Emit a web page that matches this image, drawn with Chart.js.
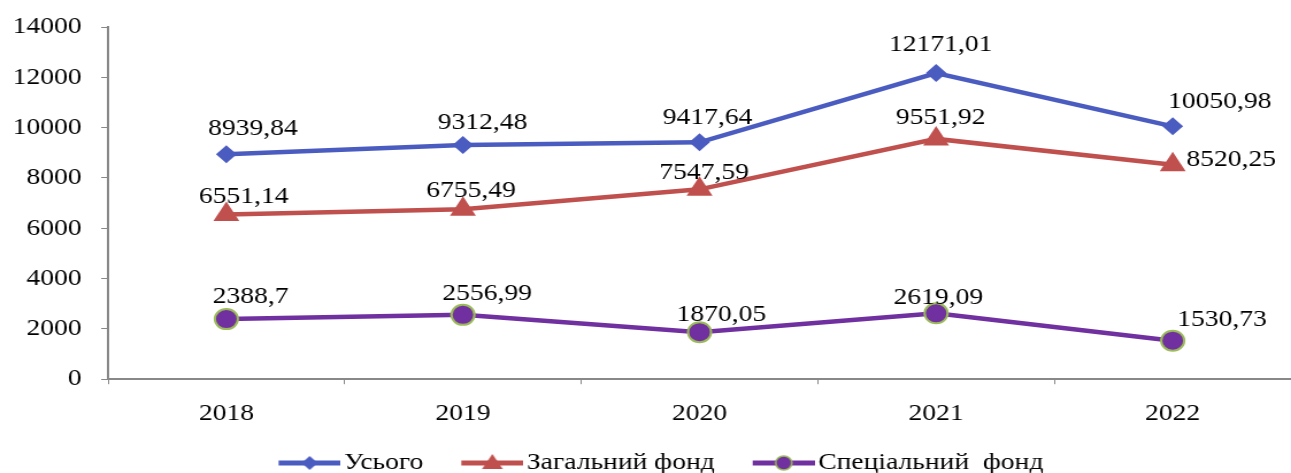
<!DOCTYPE html>
<html>
<head>
<meta charset="utf-8">
<script src="https://cdn.jsdelivr.net/npm/chart.js@4"></script>
<style>
  html, body { margin: 0; padding: 0; background: #fff; overflow: hidden; }
  /* the original picture is a bit wider than tall, so draw narrow and stretch */
  #wrap { width: 1123px; height: 473px; transform: scaleX(1.1496); transform-origin: 0 0; }
</style>
</head>
<body>
<div id="wrap"><canvas id="line"></canvas></div>
<script>
// data
const years = ['2018', '2019', '2020', '2021', '2022'];
const total = [8939.84, 9312.48, 9417.64, 12171.01, 10050.98];
const general = [6551.14, 6755.49, 7547.59, 9551.92, 8520.25];
const special = [2388.7, 2556.99, 1870.05, 2619.09, 1530.73];
const seriesNames = ['Усього', 'Загальний фонд', 'Спеціальний  фонд'];

const FONT = 'Liberation Serif, "Times New Roman", serif';
const blue = '#4B5CC1';
const red = '#C0504D';
const purple = '#7030A0';

// label offsets from the point (px), like hand-placed labels in Excel
const labelShift = [
  [[23, -26], [17, -22], [7, -25], [4, -28], [41, -25]],
  [[15, -18], [7, -19], [4, -17], [4, -21], [51, -5]],
  [[21, -22], [21, -21], [19, -17], [2, -16], [43, -21]]
];

function fmt(v) {
  return String(v).replace('.', ',');
}

// legend icon: line with the marker in the middle (left part is empty space)
function legendIcon(color, kind) {
  let c = document.createElement('canvas');
  c.width = 96; c.height = 24;
  let g = c.getContext('2d');
  g.strokeStyle = color;
  g.lineWidth = 5;
  g.beginPath(); g.moveTo(42, 12); g.lineTo(96, 12); g.stroke();
  g.fillStyle = color;
  let m = 69;
  g.beginPath();
  if (kind == 'diamond') {
    g.moveTo(m, 5); g.lineTo(m + 7, 12); g.lineTo(m, 19); g.lineTo(m - 7, 12);
    g.closePath(); g.fill();
  } else if (kind == 'triangle') {
    g.moveTo(m, 3); g.lineTo(m + 9, 18); g.lineTo(m - 9, 18);
    g.closePath(); g.fill();
  } else {
    g.arc(m, 12, 7, 0, Math.PI * 2);
    g.fill();
    g.strokeStyle = '#9BBB59';
    g.lineWidth = 1.5;
    g.stroke();
  }
  return c;
}

const icons = [legendIcon(blue, 'diamond'), legendIcon(red, 'triangle'), legendIcon(purple, 'circle')];

const valueLabels = {
  id: 'valueLabels',
  afterDatasetsDraw(chart) {
    let ctx = chart.ctx;
    ctx.save();
    ctx.font = '24px ' + FONT;
    ctx.fillStyle = '#000';
    ctx.textAlign = 'center';
    ctx.textBaseline = 'middle';
    chart.data.datasets.forEach((ds, i) => {
      let meta = chart.getDatasetMeta(i);
      meta.data.forEach((pt, j) => {
        let s = labelShift[i][j];
        ctx.fillText(fmt(ds.data[j]), pt.x + s[0], pt.y + s[1]);
      });
    });
    ctx.restore();
  }
};

let ctx = document.querySelector('#line');

const myChart = new Chart(ctx, {
  type: 'line',
  data: {
    labels: years,
    datasets: [{
      label: seriesNames[0],
      data: total,
      borderColor: blue,
      backgroundColor: blue,
      borderWidth: 4.5,
      pointStyle: 'rectRot',
      pointRadius: 9,
      pointBorderWidth: 0,
      pointBackgroundColor: blue
    }, {
      label: seriesNames[1],
      data: general,
      borderColor: red,
      backgroundColor: red,
      borderWidth: 4.5,
      pointStyle: 'triangle',
      pointRadius: 13,
      pointBorderWidth: 0,
      pointBackgroundColor: red
    }, {
      label: seriesNames[2],
      data: special,
      borderColor: purple,
      backgroundColor: purple,
      borderWidth: 4.5,
      pointStyle: 'circle',
      pointRadius: 10,
      pointBorderWidth: 2,
      pointBorderColor: '#9BBB59',
      pointBackgroundColor: purple
    }]
  },
  options: {
    responsive: true,
    maintainAspectRatio: false,
    animation: false,
    layout: { autoPadding: false, padding: { left: -6, right: 0, top: 27, bottom: -12 } },
    plugins: {
      tooltip: { enabled: false },
      legend: {
        position: 'bottom',
        labels: {
          usePointStyle: true,
          pointStyleWidth: 78,
          padding: 0,
          color: '#000',
          font: { family: FONT, size: 24 },
          generateLabels(chart) {
            return chart.data.datasets.map((ds, i) => ({
              text: ds.label,
              pointStyle: icons[i],
              fillStyle: ds.borderColor,
              strokeStyle: ds.borderColor,
              lineWidth: 0,
              hidden: false,
              datasetIndex: i,
              fontColor: '#000'
            }));
          }
        }
      }
    },
    scales: {
      x: {
        offset: true,
        grid: {
          display: true,
          offset: true,
          drawOnChartArea: false,
          drawTicks: true,
          tickLength: 5,
          color: '#888'
        },
        border: { color: '#888', width: 2 },
        ticks: {
          color: '#000',
          padding: 15,
          font: { family: FONT, size: 24 }
        },
        afterFit(scale) {
          scale.height += 8;
          scale.paddingLeft = 0;
          scale.paddingRight = 0;
        }
      },
      y: {
        min: 0,
        max: 14000,
        grid: {
          display: true,
          drawOnChartArea: false,
          drawTicks: true,
          tickLength: 6,
          color: '#888'
        },
        border: { color: '#888', width: 2 },
        ticks: {
          stepSize: 2000,
          color: '#000',
          padding: 17,
          font: { family: FONT, size: 24 },
          callback: (v) => String(v)
        },
        afterFit(scale) {
          scale.paddingTop = 0;
          scale.paddingBottom = 0;
        }
      }
    }
  },
  plugins: [valueLabels]
});
</script>
</body>
</html>
